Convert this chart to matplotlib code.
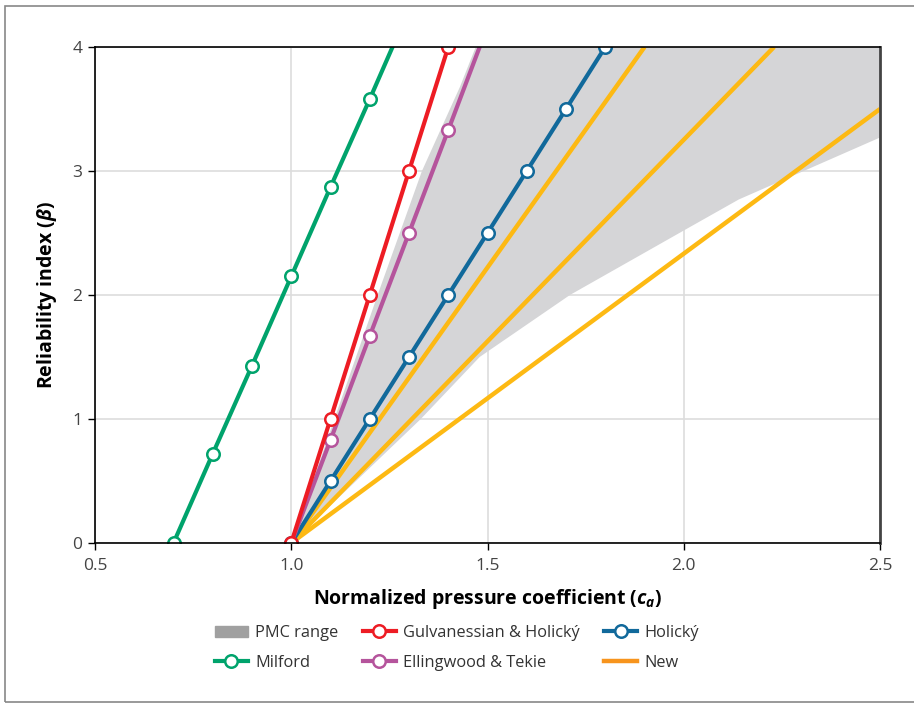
import numpy as np
import matplotlib
matplotlib.use('Agg')
import matplotlib.pyplot as plt
from matplotlib.lines import Line2D
from matplotlib.patches import Patch, Rectangle

plt.rcParams['font.family'] = ['Open Sans', 'DejaVu Sans']
plt.rcParams['mathtext.fontset'] = 'custom'
plt.rcParams['mathtext.it'] = 'Open Sans:italic:bold'
plt.rcParams['mathtext.rm'] = 'Open Sans:bold'

# --- data ---
milford_c = [0.7, 0.8, 0.9, 1.0, 1.1, 1.2, 1.258]
milford_b = [0.0, 0.72, 1.43, 2.15, 2.87, 3.58, 4.0]

gulv_c = [1.0, 1.1, 1.2, 1.3, 1.4]
gulv_b = [0.0, 1.0, 2.0, 3.0, 4.0]

elling_c = [1.0, 1.1, 1.2, 1.3, 1.4, 1.48]
elling_b = [0.0, 0.83, 1.67, 2.5, 3.33, 4.0]

holicky_c = [1.0, 1.1, 1.2, 1.3, 1.4, 1.5, 1.6, 1.7, 1.8]
holicky_b = [0.0, 0.5, 1.0, 1.5, 2.0, 2.5, 3.0, 3.5, 4.0]

# three "New" lines: start and end points
new_c = [[1.0, 1.9], [1.0, 2.23], [1.0, 2.5]]
new_b = [[0.0, 4.0], [0.0, 4.0], [0.0, 3.5]]

# PMC range envelope
pmc_upper_c = [1.0, 1.11, 1.22, 1.333, 1.43, 1.47]
pmc_upper_b = [0.0, 1.0, 2.0, 3.0, 3.68, 4.0]
pmc_lower_c = [1.0, 1.33, 1.48, 1.71, 2.0, 2.14, 2.5]
pmc_lower_b = [0.0, 1.0, 1.5, 2.0, 2.52, 2.77, 3.27]

green = '#00A36C'
red = '#ED1C24'
purple = '#B5549C'
blue = '#11699B'
amber = '#FDB913'
orange = '#F7941D'

fig = plt.figure(figsize=(9.14, 7.04), dpi=100)
ax = fig.add_axes([95 / 914, 1 - 543 / 704, 785 / 914, 496 / 704])

# shaded PMC range
poly_c = pmc_upper_c + [2.5] + pmc_lower_c[::-1]
poly_b = pmc_upper_b + [4.0] + pmc_lower_b[::-1]
ax.fill(poly_c, poly_b, color='#D5D5D7', lw=0, zorder=1)

for c, b in zip(new_c, new_b):
    ax.plot(c, b, color=amber, lw=3.2, zorder=2, solid_capstyle='butt')

mk = dict(marker='o', markersize=9, markerfacecolor='white', markeredgewidth=1.8, lw=3.0)
ax.plot(holicky_c, holicky_b, color=blue, zorder=3, **mk)
ax.plot(elling_c, elling_b, color=purple, markevery=[1, 2, 3, 4], zorder=4, **mk)
ax.plot(gulv_c, gulv_b, color=red, zorder=5, **mk)
ax.plot(milford_c, milford_b, color=green, markevery=[0, 1, 2, 3, 4, 5], zorder=5, **mk)

ax.set_xlim(0.5, 2.5)
ax.set_ylim(0, 4)
ax.set_xticks([0.5, 1.0, 1.5, 2.0, 2.5])
ax.set_yticks([0, 1, 2, 3, 4])
ax.set_xticklabels(['0.5', '1.0', '1.5', '2.0', '2.5'])
ax.grid(True, color='#DDDDDD', lw=1.2, zorder=0)
ax.set_axisbelow(True)
ax.tick_params(labelsize=12.5, labelcolor='#444444', length=5, width=1, pad=4)
ax.tick_params(axis='x', pad=6)

for s in ['left', 'bottom', 'top']:
    ax.spines[s].set_color('black')
    ax.spines[s].set_linewidth(1.2)
ax.spines['right'].set_color('#444444')
ax.spines['right'].set_linewidth(2)
for sp in ax.spines.values():
    sp.set_zorder(6)

ax.set_xlabel(r'Normalized pressure coefficient ($c_a$)', fontsize=14, fontweight='bold', labelpad=9)
ax.set_ylabel(r'Reliability index ($\beta$)', fontsize=14, fontweight='bold', labelpad=10)

handles = [
    Patch(color='#A0A0A0', label='PMC range'),
    Line2D([], [], color=green, label='Milford', **mk),
    Line2D([], [], color=red, label='Gulvanessian & Holický', **mk),
    Line2D([], [], color=purple, label='Ellingwood & Tekie', **mk),
    Line2D([], [], color=blue, label='Holický', **mk),
    Line2D([], [], color=orange, lw=3.2, label='New'),
]
fig.legend(handles=handles, ncol=3, loc='center', bbox_to_anchor=(0.5, 1 - 648 / 704),
           frameon=False, fontsize=11.8, handlelength=2.0, columnspacing=1.5,
           labelspacing=0.85, handletextpad=0.45, labelcolor='#333333')

# outer frame
fig.patches.append(Rectangle((5 / 914, 2 / 704), 1.0, 1 - 8 / 704, transform=fig.transFigure,
                             fill=False, edgecolor='#888888', lw=1.2))

fig.savefig('out.png', dpi=100)
